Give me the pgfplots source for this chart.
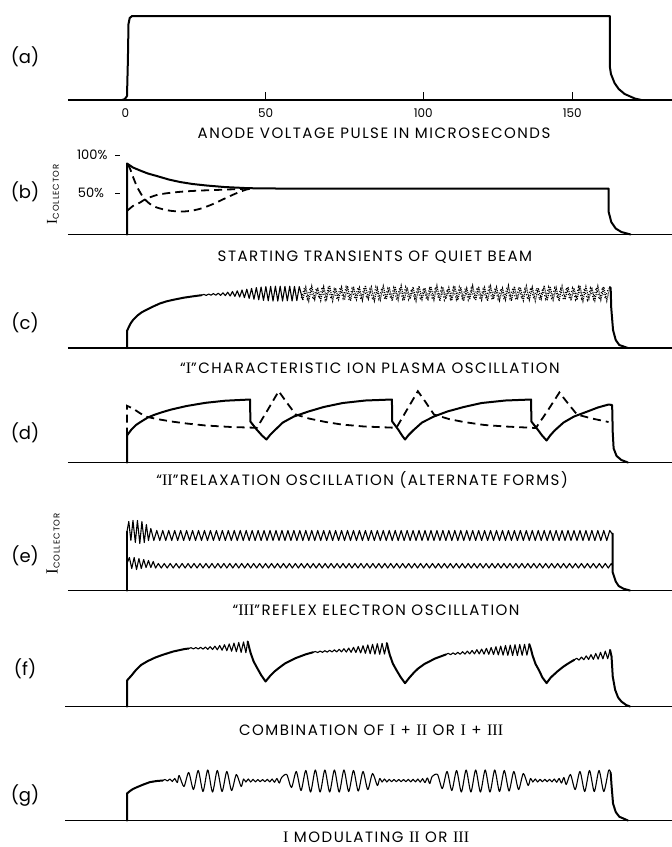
\documentclass[border=0pt]{standalone}
\usepackage{pgfplots}
\pgfplotsset{compat=1.18}
\usepackage{fontspec}
\setmainfont{Poppins}
\newfontfamily\capfont{Poppins}[LetterSpace=10]
\newfontfamily\romnum{Liberation Serif}
\newcommand\rn[1]{{\romnum\fontsize{16}{16}\selectfont #1}}

% one panel = one axis; x in microseconds, y in points above the baseline
\pgfplotsset{
  panel/.style={hide axis, clip=false, anchor=origin,
    x=2.98pt, y=1pt, xmin=-42.617, xmax=182.886, ymin=-40, ymax=100},
  trace/.style={black, line width=2pt, line join=round, line cap=round},
  fine/.style={black, line width=1.1pt, line join=round},
  dash/.style={black, line width=1.8pt, dash pattern=on 8pt off 5pt},
  base/.style={black, line width=1.6pt},
  tickmark/.style={black, line width=0.8pt},
}
\tikzset{
  capt/.style={anchor=base, font=\capfont\fontsize{15}{17}\selectfont},
  plab/.style={font=\fontsize{18}{20}\selectfont},
}
\newcommand\icoll[1]{{\romnum\fontsize{#1}{#1}\selectfont I}\raisebox{-2pt}{\capfont\fontsize{8.5}{9}\selectfont COLLECTOR}}

\begin{document}
\begin{tikzpicture}
\useasboundingbox (0,0) rectangle (672pt,-847pt);

% (a) anode voltage pulse
\begin{axis}[panel, at={(127pt,-100pt)}]
\addplot[base] coordinates {(-19.8,0)(182.9,0)};
\addplot[trace] coordinates {(-1.7,0)(-0.7,1)(0,4)(0.3,40)(0.5,76)(0.9,82)(1.7,84)(80,84)(162,84)
  (162,34)(162.4,26)(163.6,17)(165,11)(167,6)(170.4,1.5)(172.6,0)};
% tick marks sit where the original drawing puts them
\addplot[tickmark] coordinates {(46.5,0)(46.5,8)};
\addplot[tickmark] coordinates {(99.4,0)(99.4,8)};
\addplot[tickmark] coordinates {(149.4,0)(149.4,8)};
\node[font=\fontsize{12}{14}\selectfont] at (axis cs:-0.5,-13) {0};
\node[font=\fontsize{12}{14}\selectfont] at (axis cs:46.5,-13) {50};
\node[font=\fontsize{12}{14}\selectfont] at (axis cs:99.4,-13) {100};
\node[font=\fontsize{12}{14}\selectfont] at (axis cs:149.4,-13) {150};
\node[plab] at (axis cs:-34.2,43) {(a)};
\node[capt] at (axis cs:82.9,-38.5) {ANODE VOLTAGE PULSE IN MICROSECONDS};
\end{axis}

% (b) starting transients
\begin{axis}[panel, at={(127pt,-234.5pt)}]
\addplot[base] coordinates {(-19.8,0)(182.9,0)};
\addplot[trace] coordinates {(0,0)(0,71)(0.5,70)(2,67)(4.4,64)(7,61)(10,58.5)(14,55)(17.8,52.5)
  (22,50.5)(26.7,49)(32.6,47.5)(40.8,46.3)(50,46)(100,46)(161.6,46)(161.6,23)(162.5,12.5)
  (164,6)(165.9,2.5)(169,0)};
\addplot[dash, smooth, tension=0.5] coordinates {(0.3,70)(1,66)(2.1,57)(3.5,47)(5.5,37)(7.5,31)
  (10,27)(14,24)(17.8,23)(21,23.5)(24.5,25.7)(28.5,30)(32.6,35.7)(36.5,41)(40.1,45)(42,46)};
\addplot[dash, smooth, tension=0.5] coordinates {(0.2,24)(2,28.5)(4.4,32)(6.3,35.5)(10,39.5)
  (14,41.5)(19.1,43)(25,44)(32.2,44.8)(40,45.8)(42,46)};
\addplot[tickmark] coordinates {(-4,79.5)(-2.3,79.5)};
\addplot[tickmark] coordinates {(-4,41.5)(-2.3,41.5)};
\node[anchor=east, font=\fontsize{13}{14}\selectfont] at (axis cs:-5.4,79.5) {100\%};
\node[anchor=east, font=\fontsize{13}{14}\selectfont] at (axis cs:-6.5,41.5) {50\%};
\node[rotate=90] at (axis cs:-24.8,40) {\icoll{15}};
\node[plab] at (axis cs:-34.2,42.5) {(b)};
\node[capt] at (axis cs:83.2,-27) {STARTING TRANSIENTS OF QUIET BEAM};
\end{axis}

% (c) ion plasma oscillation
\begin{axis}[panel, at={(127pt,-348pt)}]
\addplot[base] coordinates {(-19.8,0)(182.9,0)};
\addplot[trace] coordinates {(0,0)(0,17)(0.6,21)(1.3,25)(2.1,28.3)(3.5,32.5)(5,35.8)(6.6,38.3)
  (9,41.8)(11,44.5)(13.3,46.7)(16,48.5)(19,50.3)(22.2,51.7)(25,52.8)};
\addplot[fine] coordinates {(25,52.8)(25.8,53.6)(26.6,52.6)(27.4,54.0)(28.2,52.8)(29.0,54.4)(29.8,52.8)
  (30.6,54.8)(31.4,52.6)(32.2,55.2)(33.0,52.4)(33.8,55.8)(34.6,52.0)(35.4,56.5)(36.2,51.6)
  (37.0,57.2)(37.8,51.0)(38.6,58.0)(39.4,50.4)(40.2,58.8)(41.0,49.6)(41.8,59.6)(42.6,48.8)
  (43.4,60.4)(44.2,48.2)(45.0,61.0)(45.8,47.6)(46.6,61.4)(47.4,47.2)(48.2,61.6)(49.0,47.0)
  (49.8,61.8)(50.6,47.0)(51.4,61.8)(52.2,47.0)(53.0,61.6)(53.8,47.2)(54.6,61.8)(55.4,47.0)
  (56.2,61.6)(57.0,47.4)(57.8,61.4)(59,48)};
\addplot[black, line width=1.1pt, densely dotted] coordinates {
  (59,48)(60,61)(61,47)(62,62)(63,48.5)(64,60.5)(65,47.5)(66,61.5)(67,49)(68,62.5)(69,47)(70,60)
  (71,48.5)(72,61)(73,48)(74,62)(75,47)(76,61.5)(77,48.5)(78,60.5)(79,47.5)(80,62.5)(81,49)(82,61)
  (83,47)(84,60)(85,48)(86,62)(87,48.5)(88,61)(89,47)(90,61.5)(91,48)(92,62.5)(93,47.5)(94,60.5)
  (95,49)(96,61)(97,47)(98,62)(99,48.5)(100,60)(101,47.5)(102,61.5)(103,48)(104,62.5)(105,47)
  (106,61)(107,49)(108,60.5)(109,47.5)(110,62)(111,48)(112,61)(113,47)(114,60)(115,48.5)(116,62.5)
  (117,47.5)(118,61.5)(119,48)(120,60.5)(121,47)(122,62)(123,49)(124,61)(125,47.5)(126,60)(127,48)
  (128,62.5)(129,47)(130,61.5)(131,48.5)(132,60.5)(133,47.5)(134,62)(135,48)(136,61)(137,47)
  (138,60)(139,49)(140,62.5)(141,47.5)(142,61.5)(143,48)(144,60.5)(145,47)(146,62)(147,48.5)
  (148,61)(149,47.5)(150,60)(151,48)(152,62.5)(153,47)(154,61.5)(155,49)(156,60.5)(157,47.5)
  (158,62)(159,48)(160,61)(161,47)(162,61)};
\addplot[black, line width=1.1pt, dotted] coordinates {
  (58.5,50)(59.5,60)(60.5,49)(61.5,60.5)(62.5,48.5)(63.5,59.5)(64.5,49.5)(65.5,61)(66.5,48)(67.5,60)
  (68.5,49)(69.5,59)(70.5,48.5)(71.5,60.5)(72.5,49.5)(73.5,61)(74.5,48)(75.5,59.5)(76.5,49)(77.5,60.5)
  (78.5,48.5)(79.5,60)(80.5,49.5)(81.5,59)(82.5,48)(83.5,61)(84.5,49)(85.5,60)(86.5,48.5)(87.5,59.5)
  (88.5,49.5)(89.5,60.5)(90.5,48)(91.5,60)(92.5,49)(93.5,61)(94.5,48.5)(95.5,59)(96.5,49.5)(97.5,60.5)
  (98.5,48)(99.5,60)(100.5,49)(101.5,59.5)(102.5,48.5)(103.5,61)(104.5,49.5)(105.5,60)(106.5,48)
  (107.5,59)(108.5,49)(109.5,60.5)(110.5,48.5)(111.5,61)(112.5,49.5)(113.5,59.5)(114.5,48)(115.5,60)
  (116.5,49)(117.5,60.5)(118.5,48.5)(119.5,59)(120.5,49.5)(121.5,61)(122.5,48)(123.5,60)(124.5,49)
  (125.5,59.5)(126.5,48.5)(127.5,60.5)(128.5,49.5)(129.5,60)(130.5,48)(131.5,61)(132.5,49)(133.5,59)
  (134.5,48.5)(135.5,60.5)(136.5,49.5)(137.5,60)(138.5,48)(139.5,59.5)(140.5,49)(141.5,61)(142.5,48.5)
  (143.5,60)(144.5,49.5)(145.5,59)(146.5,48)(147.5,60.5)(148.5,49)(149.5,60)(150.5,48.5)(151.5,61)
  (152.5,49.5)(153.5,59.5)(154.5,48)(155.5,60)(156.5,49)(157.5,60.5)(158.5,48.5)(159.5,59)
  (160.5,49.5)(161.5,60)};
\addplot[trace] coordinates {(162,61)(162.3,60)(162.5,40)(163.1,18)(164,8)(165.2,3)(168.1,0)};
\node[plab] at (axis cs:-34.2,25) {(c)};
\node[capt] at (axis cs:81.5,-25.5) {“\rn{I}”CHARACTERISTIC ION PLASMA OSCILLATION};
\end{axis}

% (d) relaxation oscillation, two forms
\begin{axis}[panel, at={(127pt,-462.5pt)}]
\addplot[base] coordinates {(-19.8,0)(182.9,0)};
\addplot[trace] coordinates {(0,0)(0,27)(1.5,33)(3,37.5)(4.8,41)(7,45)(9,47.5)(12,50.5)(14.9,53)
  (20,56.5)(26.4,59.7)(33,61.8)(41.3,63)
  (41.4,41)(43.5,33)(45.3,27)(46.8,23)(48,27.5)(49.5,32)(52.3,40)(56,46)(60.9,51)(66,55.5)
  (72.4,59.5)(80,62)(88.9,63)
  (89,41)(91,33)(92.3,27)(93.3,23)(94.5,27.5)(96,32)(99,40)(103,46)(107.5,51)(113,55.5)
  (119,59.5)(127,62)(135.6,63)
  (135.7,41)(137.8,33)(139.3,27)(140.8,22)(142,27)(143.5,32)(146.5,40)(150,46)(154.5,51)
  (158,55)(161.6,58)(162.8,57.5)(163,30)(163.3,14)(164.3,6.5)(165.9,2.5)(168.1,0)};
\addplot[dash] coordinates {(0,27)(0,56.7)(2,54)(4,50)(6.2,46)(10,43.5)(14.9,41)(20,39)(26.4,37)
  (35,35.5)(43.6,34.7)(47.3,53)(50.9,71.3)(53.6,60)(56.6,48)(61,44)(66.7,40.5)(72,38)(79.6,36)
  (90.4,34.7)(94,53)(97.6,71.3)(100.3,60)(103,48)(108,43.5)(113,40.5)(120,37.5)(127,36)
  (137.2,34.5)(141.2,52)(145.1,70)(148,59)(151,48)(156,44)(161.6,40.5)};
\node[plab] at (axis cs:-34.2,29.5) {(d)};
\node[capt] at (axis cs:78.9,-23) {“\rn{II}”RELAXATION OSCILLATION (ALTERNATE FORMS)};
\end{axis}

% (e) reflex electron oscillation
\begin{axis}[panel, at={(127pt,-590.5pt)}]
\addplot[base] coordinates {(-19.8,0)(182.9,0)};
\addplot[fine] coordinates {(0,0)(0,59)(0.6,69)(1.3,50)(2.0,70)(2.8,48)(3.5,70)
  (4.3,47)(5.0,69)(5.8,48)(6.5,66)(7.2,50)(8.0,62)(9,50)
  (10,60)(11,50)(12,60)(13,50)(14,60)(15,50)(16,60)(17,50)(18,60)(19,50)
  (20,60)(21,50)(22,60)(23,50)(24,60)(25,50)(26,60)(27,50)(28,60)(29,50)
  (30,60)(31,50)(32,60)(33,50)(34,60)(35,50)(36,60)(37,50)(38,60)(39,50)
  (40,60)(41,50)(42,60)(43,50)(44,60)(45,50)(46,60)(47,50)(48,60)(49,50)
  (50,60)(51,50)(52,60)(53,50)(54,60)(55,50)(56,60)(57,50)(58,60)(59,50)
  (60,60)(61,50)(62,60)(63,50)(64,60)(65,50)(66,60)(67,50)(68,60)(69,50)
  (70,60)(71,50)(72,60)(73,50)(74,60)(75,50)(76,60)(77,50)(78,60)(79,50)
  (80,60)(81,50)(82,60)(83,50)(84,60)(85,50)(86,60)(87,50)(88,60)(89,50)
  (90,60)(91,50)(92,60)(93,50)(94,60)(95,50)(96,60)(97,50)(98,60)(99,50)
  (100,60)(101,50)(102,60)(103,50)(104,60)(105,50)(106,60)(107,50)(108,60)(109,50)
  (110,60)(111,50)(112,60)(113,50)(114,60)(115,50)(116,60)(117,50)(118,60)(119,50)
  (120,60)(121,50)(122,60)(123,50)(124,60)(125,50)(126,60)(127,50)(128,60)(129,50)
  (130,60)(131,50)(132,60)(133,50)(134,60)(135,50)(136,60)(137,50)(138,60)(139,50)
  (140,60)(141,50)(142,60)(143,50)(144,60)(145,50)(146,60)(147,50)(148,60)(149,50)
  (150,60)(151,50)(152,60)(153,50)(154,60)(155,50)(156,60)(157,50)(158,60)(159,50)
  (160,60)(161,50)(162,60)(163,56)};
\addplot[fine] coordinates {(0,27)(0.8,33)(1.6,22)(2.4,33)(3.2,21)(4.0,32)(4.8,22)
  (5.6,31)(6.4,23)(7.2,30)(8.0,23)(8.8,29)(9.6,22.5)
  (10.5,27)(11.5,22.5)(12.5,27)(13.5,22.5)(14.5,27)(15.5,22.5)(16.5,27)(17.5,22.5)(18.5,27)(19.5,22.5)
  (20.5,27)(21.5,22.5)(22.5,27)(23.5,22.5)(24.5,27)(25.5,22.5)(26.5,27)(27.5,22.5)(28.5,27)(29.5,22.5)
  (30.5,27)(31.5,22.5)(32.5,27)(33.5,22.5)(34.5,27)(35.5,22.5)(36.5,27)(37.5,22.5)(38.5,27)(39.5,22.5)
  (40.5,27)(41.5,22.5)(42.5,27)(43.5,22.5)(44.5,27)(45.5,22.5)(46.5,27)(47.5,22.5)(48.5,27)(49.5,22.5)
  (50.5,27)(51.5,22.5)(52.5,27)(53.5,22.5)(54.5,27)(55.5,22.5)(56.5,27)(57.5,22.5)(58.5,27)(59.5,22.5)
  (60.5,27)(61.5,22.5)(62.5,27)(63.5,22.5)(64.5,27)(65.5,22.5)(66.5,27)(67.5,22.5)(68.5,27)(69.5,22.5)
  (70.5,27)(71.5,22.5)(72.5,27)(73.5,22.5)(74.5,27)(75.5,22.5)(76.5,27)(77.5,22.5)(78.5,27)(79.5,22.5)
  (80.5,27)(81.5,22.5)(82.5,27)(83.5,22.5)(84.5,27)(85.5,22.5)(86.5,27)(87.5,22.5)(88.5,27)(89.5,22.5)
  (90.5,27)(91.5,22.5)(92.5,27)(93.5,22.5)(94.5,27)(95.5,22.5)(96.5,27)(97.5,22.5)(98.5,27)(99.5,22.5)
  (100.5,27)(101.5,22.5)(102.5,27)(103.5,22.5)(104.5,27)(105.5,22.5)(106.5,27)(107.5,22.5)(108.5,27)(109.5,22.5)
  (110.5,27)(111.5,22.5)(112.5,27)(113.5,22.5)(114.5,27)(115.5,22.5)(116.5,27)(117.5,22.5)(118.5,27)(119.5,22.5)
  (120.5,27)(121.5,22.5)(122.5,27)(123.5,22.5)(124.5,27)(125.5,22.5)(126.5,27)(127.5,22.5)(128.5,27)(129.5,22.5)
  (130.5,27)(131.5,22.5)(132.5,27)(133.5,22.5)(134.5,27)(135.5,22.5)(136.5,27)(137.5,22.5)(138.5,27)(139.5,22.5)
  (140.5,27)(141.5,22.5)(142.5,27)(143.5,22.5)(144.5,27)(145.5,22.5)(146.5,27)(147.5,22.5)(148.5,27)(149.5,22.5)
  (150.5,27)(151.5,22.5)(152.5,27)(153.5,22.5)(154.5,27)(155.5,22.5)(156.5,27)(157.5,22.5)(158.5,27)(159.5,22.5)
  (160.5,27)(161.5,22.5)(162.5,27)(163,24.5)};
\addplot[trace] coordinates {(0,0)(0,59)};
\addplot[trace] coordinates {(163,57)(163,18)(164,9)(165,4.5)(166.6,1.8)(168.8,0)};
\node[rotate=90] at (axis cs:-24.8,46.5) {\icoll{17}};
\node[plab] at (axis cs:-34.2,34.5) {(e)};
\node[capt] at (axis cs:83.6,-25) {“\rn{III}”REFLEX ELECTRON OSCILLATION};
\end{axis}

% (f) combination
\begin{axis}[panel, at={(127pt,-706.5pt)}]
\addplot[base] coordinates {(-20.8,0)(182.9,0)};
\addplot[trace] coordinates {(0,0)(0,26)(1.5,31)(3,36.5)(4.8,41.7)(7,45.5)(9.5,49)(12,51.7)
  (15.5,55)(19.2,57.4)(20.7,58)};
\addplot[fine] coordinates {(20.7,58)(21.5,58.8)(22.3,57.6)(23.1,59)(23.9,57.5)
  (24.7,59.2)(25.5,57.4)(26.3,59.4)(27.1,57.2)(27.9,59.8)(28.7,57)(29.5,60.3)(30.3,56.7)(31.1,61)
  (31.9,56.3)(32.7,61.8)(33.5,55.8)(34.3,62.6)(35.1,55.3)(35.9,63.4)(36.7,54.8)(37.5,64)(38.3,54.2)
  (39.1,64.6)(39.9,53.8)(40.5,65)};
\addplot[trace] coordinates {(40.5,65)(41,59)(41.5,53.4)(42.5,45)(43.7,38.4)(45,31.5)(46.5,25)
  (48,30.5)(49.5,35)(50.9,38.4)(53,43)(56.6,48.4)(60,52.2)(62.4,54.2)};
\addplot[fine] coordinates {(62.4,54.2)(63.2,55.0)(64.0,54.0)(64.8,55.4)(65.6,54.2)
  (66.4,55.8)(67.2,54.4)(68.0,56.2)(68.8,54.6)(69.6,56.6)(70.4,54.6)(71.2,57.2)(72.0,54.6)(72.8,57.8)
  (73.6,54.4)(74.4,58.4)(75.2,54.2)(76.0,59.2)(76.8,54.0)(77.6,60.0)(78.4,53.6)(79.2,60.8)(80.0,53.2)
  (80.8,61.6)(81.6,52.8)(82.4,62.2)(83.2,52.4)(84.0,62.8)(84.8,52.2)(85.6,63.2)(86.4,52.4)(87.2,63.4)};
\addplot[trace] coordinates {(87.2,63.4)(87.7,57)(88.2,51.5)(89.2,43)(90.4,36.5)(91.8,29.5)(93.3,23.3)
  (94.8,29)(96.3,34)(97.7,38)(99.8,42.5)(103.4,48)(107,52)};
\addplot[fine] coordinates {(107,52)(107.8,53.2)(108.6,51.8)(109.4,53.6)(110.2,52.0)
  (111.0,54.2)(111.8,52.2)(112.6,54.8)(113.4,52.4)(114.2,55.4)(115.0,52.6)(115.8,56.0)(116.6,52.6)
  (117.4,56.8)(118.2,52.6)(119.0,57.4)(119.8,52.4)(120.6,58.2)(121.4,52.2)(122.2,59.0)(123.0,52.0)
  (123.8,59.8)(124.6,51.6)(125.4,60.4)(126.2,51.4)(127.0,61.0)(127.8,51.2)(128.6,61.4)(129.4,51.0)
  (130.2,61.8)(131.0,51.0)(131.8,62.0)(132.6,51.2)(133.4,62.2)(134.2,51.4)(135.0,62.4)};
\addplot[trace] coordinates {(135,62.4)(135.6,57)(136.1,51)(137.1,42.5)(138.3,36)(139.4,29)(140.8,23.4)
  (142.2,29)(144.4,35)(146.5,40)(148.3,43.5)(150.1,46.7)};
\addplot[fine] coordinates {(150.1,46.7)(150.9,48.2)(151.7,46.4)(152.5,49.4)
  (153.3,46.8)(154.1,50.6)(154.9,47.0)(155.7,51.8)(156.5,47.2)(157.3,53.0)(158.1,47.4)(158.9,54.2)
  (159.7,47.6)(160.5,55.4)(161.3,47.8)(162.1,56.6)};
\addplot[trace] coordinates {(162.1,56.6)(162.6,50)(163,30)(163.8,16.7)(164.8,9)(165.9,5)(167.5,1.5)(168.8,0)};
\node[plab] at (axis cs:-34.2,37.5) {(f)};
\node[capt] at (axis cs:81.9,-29) {COMBINATION OF \rn{I} + \rn{II} OR \rn{I} + \rn{III}};
\end{axis}

% (g) I modulating II or III
\begin{axis}[panel, at={(127pt,-820.5pt)}]
\addplot[base] coordinates {(-20.8,0)(182.9,0)};
\addplot[trace] coordinates {(0,0)(0,27)(1,29.5)(2,31.5)(3.4,33.4)(5.5,36)(7.7,38.4)(10,39.5)(12,40)};
\addplot[fine, smooth, tension=0.45] coordinates {(12,40)
  (12.8,41)(13.6,39.5)(14.4,41.5)(15.2,39)(16,42)(16.9,38)
  (17.5,45)(19.1,34)(20.7,48)(22.3,31)(23.9,50)(25.5,29)(27.1,50.5)(28.7,28.5)(30.3,50)(31.9,29)
  (33.5,49)(35.1,30)(36.7,46)(38.3,34)
  (39.1,41.5)(39.9,38.5)(40.7,41.5)(41.5,38.5)(42.3,41.2)(43.1,38.6)(43.9,41)(44.7,38.8)(45.5,41)
  (46.3,38.8)(47.1,41.2)(47.9,38.6)(48.7,41.5)(49.5,38.2)(50.3,42)(51.1,37.5)(51.9,43)
  (53.6,46)(55.2,33)(56.8,49)(58.4,30)(60,50)(61.6,28.5)(63.2,50.5)(64.8,28.5)(66.4,50.5)(68,28.5)
  (69.6,50.5)(71.2,28.5)(72.8,50.5)(74.4,29)(76,50)(77.6,29.5)(79.2,49)(80.8,31)(82.4,47)(84,35)
  (84.8,42)(85.6,38.5)(86.4,41.5)(87.2,38.5)(88,41.2)(88.8,38.8)(89.6,41)(90.4,38.8)(91.2,41)(92,38.8)
  (92.8,41)(93.6,38.8)(94.4,41.2)(95.2,38.6)(96,41.2)(96.8,38.6)(97.6,41.5)(98.4,38.4)(99.2,41.8)
  (100,38)(100.8,42.5)(101.6,37)(102.4,44)
  (104.2,46)(105.8,32)(107.4,49)(109,30)(110.6,50)(112.2,28.5)(113.8,50.5)(115.4,28.5)(117,50.5)
  (118.6,28.5)(120.2,50.5)(121.8,28.5)(123.4,50.5)(125,29)(126.6,50)(128.2,29.5)(129.8,49)(131.4,31)
  (133,47)(134.6,35)
  (135.4,42)(136.2,38.5)(137,41.5)(137.8,38.5)(138.6,41.2)(139.4,38.8)(140.2,41.2)(141,38.8)
  (141.8,41.2)(142.6,38.6)(143.4,41.5)(144.2,38.2)(145,42)(145.8,37.5)(146.6,43)(147.4,36)
  (148.8,46)(150.4,31)(152,49)(153.6,29)(155.2,50)(156.8,29)(158.4,50)(160,29)(161.6,50)(162.3,48)};
\addplot[trace] coordinates {(162.3,48)(162.6,35)(163.1,17)(164,8.5)(165.2,3.8)(168.1,0)};
\node[plab] at (axis cs:-34.2,24.5) {(g)};
\node[capt] at (axis cs:83.6,-21.5) {\rn{I} MODULATING \rn{II} OR \rn{III}};
\end{axis}
\end{tikzpicture}
\end{document}
